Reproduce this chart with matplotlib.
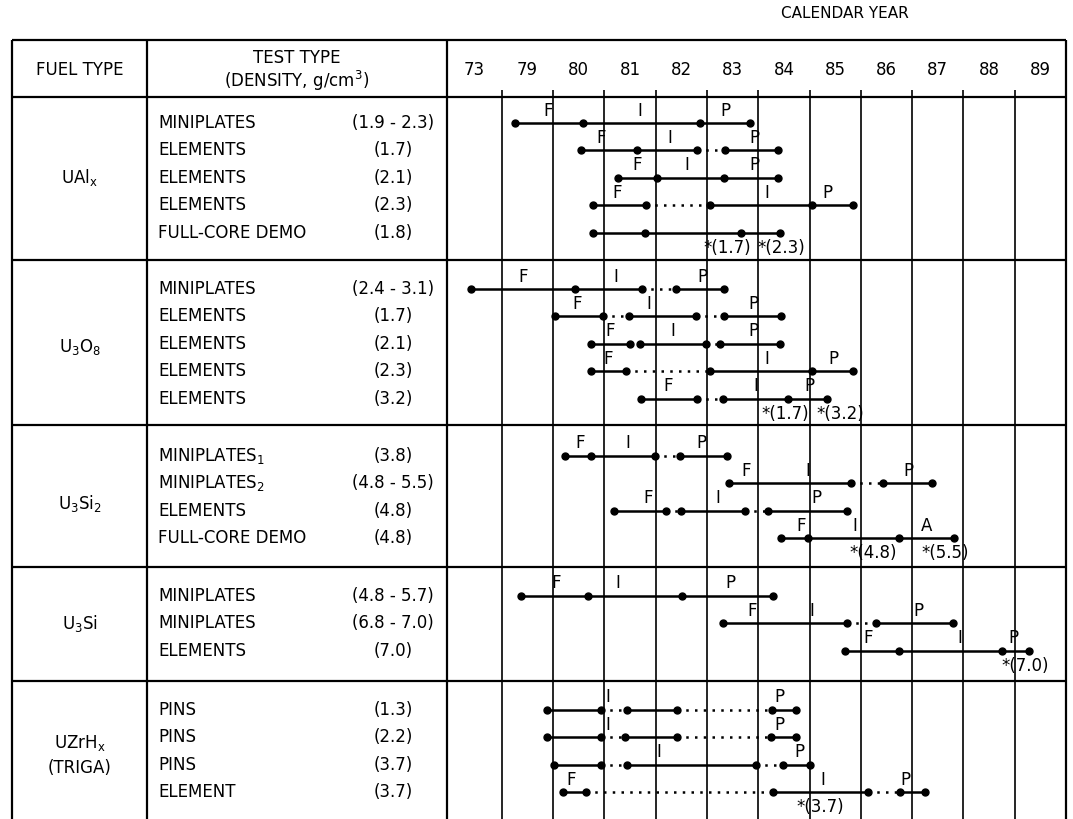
import matplotlib.pyplot as plt

plt.rcParams['font.family'] = ['DejaVu Sans']
plt.rcParams['mathtext.fontset'] = 'dejavusans'

W, H = 1073, 819

# calendar columns (the "73" column is a compressed lead-in before 1979)
year_labels = ['73', '79', '80', '81', '82', '83', '84', '85', '86', '87', '88', '89']
year_edges = [77.93, 79, 80, 81, 82, 83, 84, 85, 86, 87, 88, 89, 90]

fuel_labels = [r'$\mathregular{UAl_x}$', r'$\mathregular{U_3O_8}$', r'$\mathregular{U_3Si_2}$',
               r'$\mathregular{U_3Si}$', r'$\mathregular{UZrH_x}$']
fuel_label_rows = [2, 2.1, 1.75, 1, 1.2]

# UAlx
ualx_tests = ['MINIPLATES', 'ELEMENTS', 'ELEMENTS', 'ELEMENTS', 'FULL-CORE DEMO']
ualx_dens = ['(1.9 - 2.3)', '(1.7)', '(2.1)', '(2.3)', '(1.8)']
ualx_dots = [[79.25, 80.58, 82.86, 83.83],
             [80.55, 81.63, 82.80, 83.35, 84.39],
             [81.27, 82.02, 83.33, 84.39],
             [80.77, 81.82, 83.05, 85.04, 85.85],
             [80.77, 81.79, 83.67, 84.43]]
ualx_links = ['---', '--:-', '---', '-:--', '---']
ualx_marks = [[('F', 79.90), ('I', 81.69), ('P', 83.35)],
              [('F', 80.94), ('I', 82.27), ('P', 83.93)],
              [('F', 81.63), ('I', 82.60), ('P', 83.93)],
              [('F', 81.24), ('I', 84.16), ('P', 85.35)],
              []]
ualx_notes = [('*(1.7)', 83.0), ('*(2.3)', 84.05)]

# U3O8
u3o8_tests = ['MINIPLATES', 'ELEMENTS', 'ELEMENTS', 'ELEMENTS', 'ELEMENTS']
u3o8_dens = ['(2.4 - 3.1)', '(1.7)', '(2.1)', '(2.3)', '(3.2)']
u3o8_dots = [[78.39, 80.42, 81.73, 82.39, 83.33],
             [80.03, 80.97, 81.48, 82.78, 83.33, 84.45],
             [80.73, 81.50, 81.69, 82.99, 83.25, 84.42],
             [80.73, 81.43, 83.05, 85.04, 85.84],
             [81.72, 82.80, 83.31, 84.58, 85.33]]
u3o8_links = ['--:-', '-:-:-', '-:-:-', '-:--', '-:--']
u3o8_marks = [[('F', 79.42), ('I', 81.22), ('P', 82.92)],
              [('F', 80.46), ('I', 81.87), ('P', 83.90)],
              [('F', 81.11), ('I', 82.34), ('P', 83.90)],
              [('F', 81.07), ('I', 84.16), ('P', 85.46)],
              [('F', 82.24), ('I', 83.95), ('P', 84.99)]]
u3o8_notes = [('*(1.7)', 84.13), ('*(3.2)', 85.2)]

# U3Si2
u3si2_tests = [r'MINIPLATES$_\mathregular{1}$', r'MINIPLATES$_\mathregular{2}$', 'ELEMENTS', 'FULL-CORE DEMO']
u3si2_dens = ['(3.8)', '(4.8 - 5.5)', '(4.8)', '(4.8)']
u3si2_dots = [[80.24, 80.73, 81.98, 82.47, 83.39],
              [83.43, 85.80, 86.43, 87.39],
              [81.18, 82.21, 82.50, 83.74, 84.19, 85.72],
              [84.45, 84.97, 86.74, 87.81]]
u3si2_links = ['--:-', '-:-', '-:-:-', '---']
u3si2_marks = [[('F', 80.52), ('I', 81.46), ('P', 82.89)],
               [('F', 83.77), ('I', 84.97), ('P', 86.92)],
               [('F', 81.85), ('I', 83.22), ('P', 85.13)],
               [('F', 84.84), ('I', 85.88), ('A', 87.28)]]
u3si2_notes = [('*(4.8)', 85.84), ('*(5.5)', 87.25)]

# U3Si
u3si_tests = ['MINIPLATES', 'MINIPLATES', 'ELEMENTS']
u3si_dens = ['(4.8 - 5.7)', '(6.8 - 7.0)', '(7.0)']
u3si_dots = [[79.37, 80.68, 82.51, 84.29],
             [83.31, 85.72, 86.29, 87.79],
             [85.70, 86.74, 88.75, 89.28]]
u3si_links = ['---', '-:-', '---']
u3si_marks = [[('F', 80.06), ('I', 81.26), ('P', 83.46)],
              [('F', 83.87), ('I', 85.04), ('P', 87.12)],
              [('F', 86.14), ('I', 87.93), ('P', 88.97)]]
u3si_notes = [('*(7.0)', 88.82)]

# UZrHx (TRIGA)
uzrh_tests = ['PINS', 'PINS', 'PINS', 'ELEMENT']
uzrh_dens = ['(1.3)', '(2.2)', '(3.7)', '(3.7)']
uzrh_dots = [[79.88, 80.94, 81.44, 82.41, 84.26, 84.74],
             [79.88, 80.94, 81.40, 82.41, 84.24, 84.73],
             [80.01, 80.94, 81.44, 83.95, 84.48, 85.00],
             [80.19, 80.65, 84.28, 86.14, 86.76, 87.25]]
uzrh_links = ['-:-:-', '-:-:-', '-:-:-', '-:-:-']
uzrh_marks = [[('I', 81.07), ('P', 84.42)],
              [('I', 81.07), ('P', 84.42)],
              [('I', 82.06), ('P', 84.80)],
              [('F', 80.36), ('I', 85.26), ('P', 86.86)]]
uzrh_notes = [('*(3.7)', 84.81)]

blocks = [
    (ualx_tests, ualx_dens, ualx_dots, ualx_links, ualx_marks, ualx_notes),
    (u3o8_tests, u3o8_dens, u3o8_dots, u3o8_links, u3o8_marks, u3o8_notes),
    (u3si2_tests, u3si2_dens, u3si2_dots, u3si2_links, u3si2_marks, u3si2_notes),
    (u3si_tests, u3si_dens, u3si_dots, u3si_links, u3si_marks, u3si_notes),
    (uzrh_tests, uzrh_dens, uzrh_dots, uzrh_links, uzrh_marks, uzrh_notes),
]

# layout (pixels, y downwards)
head_top, head_bot = 40, 97
block_tops = [97, 260, 425, 567, 681]
first_row = [26, 29, 31, 29, 29]
row_step = 27.4
x_left, x_fuel, x_test, x_right = 12, 147, 447, 1066

fs = 12
fig = plt.figure(figsize=(W / 100, H / 100), dpi=100)
ax = fig.add_axes([0, 0, 1, 1])
ax.set_xlim(0, W)
ax.set_ylim(H, 0)
ax.axis('off')

tl = fig.add_axes([x_test / W, 0, (x_right - x_test) / W, 1])
tl.set_xlim(year_edges[0], year_edges[-1])
tl.set_ylim(H, 0)
tl.axis('off')

# table frame
ax.hlines([head_top, head_bot] + block_tops[1:], x_left, x_right, color='k', lw=1.6)
ax.vlines([x_left, x_fuel, x_test, x_right], head_top, H, color='k', lw=1.6)
tl.vlines(year_edges[1:-1], head_bot, H, color='k', lw=1.2)
tl.vlines(year_edges[1:-1], head_bot - 7, head_bot, color='k', lw=1.2)

# header
ax.text(845, 14, 'CALENDAR YEAR', ha='center', va='center', fontsize=11)
ax.text((x_left + x_fuel) / 2, 70, 'FUEL TYPE', ha='center', va='center', fontsize=fs)
ax.text(297, 58, 'TEST TYPE', ha='center', va='center', fontsize=fs)
ax.text(297, 81, '(DENSITY, g/cm$^\\mathregular{3}$)', ha='center', va='center', fontsize=fs)
for k, lab in enumerate(year_labels):
    tl.text((year_edges[k] + year_edges[k + 1]) / 2, 70, lab, ha='center', va='center', fontsize=fs)

dotted = (0, (1, 2.5))
for b, (tests, dens, dots, links, marks, notes) in enumerate(blocks):
    ys = [block_tops[b] + first_row[b] + row_step * i for i in range(len(tests))]
    fy = block_tops[b] + first_row[b] + row_step * fuel_label_rows[b]
    ax.text((x_left + x_fuel) / 2, fy, fuel_labels[b], ha='center', va='center', fontsize=fs)
    if b == 4:
        ax.text((x_left + x_fuel) / 2, fy + 25, '(TRIGA)', ha='center', va='center', fontsize=fs)
    for i, y in enumerate(ys):
        ax.text(158, y, tests[i], ha='left', va='center', fontsize=fs)
        ax.text(393, y, dens[i], ha='center', va='center', fontsize=fs)
        xs = dots[i]
        for j, st in enumerate(links[i]):
            tl.plot([xs[j], xs[j + 1]], [y, y], color='k', lw=1.8,
                    ls='-' if st == '-' else dotted, solid_capstyle='butt')
        tl.plot(xs, [y] * len(xs), 'o', color='k', ms=5)
        for letter, x in marks[i]:
            tl.text(x, y - 12.5, letter, ha='center', va='center', fontsize=fs)
    for txt, x in notes:
        tl.text(x - 0.07, ys[-1] + 15, txt, ha='left', va='center', fontsize=fs)

fig.savefig('out.png', dpi=100)
